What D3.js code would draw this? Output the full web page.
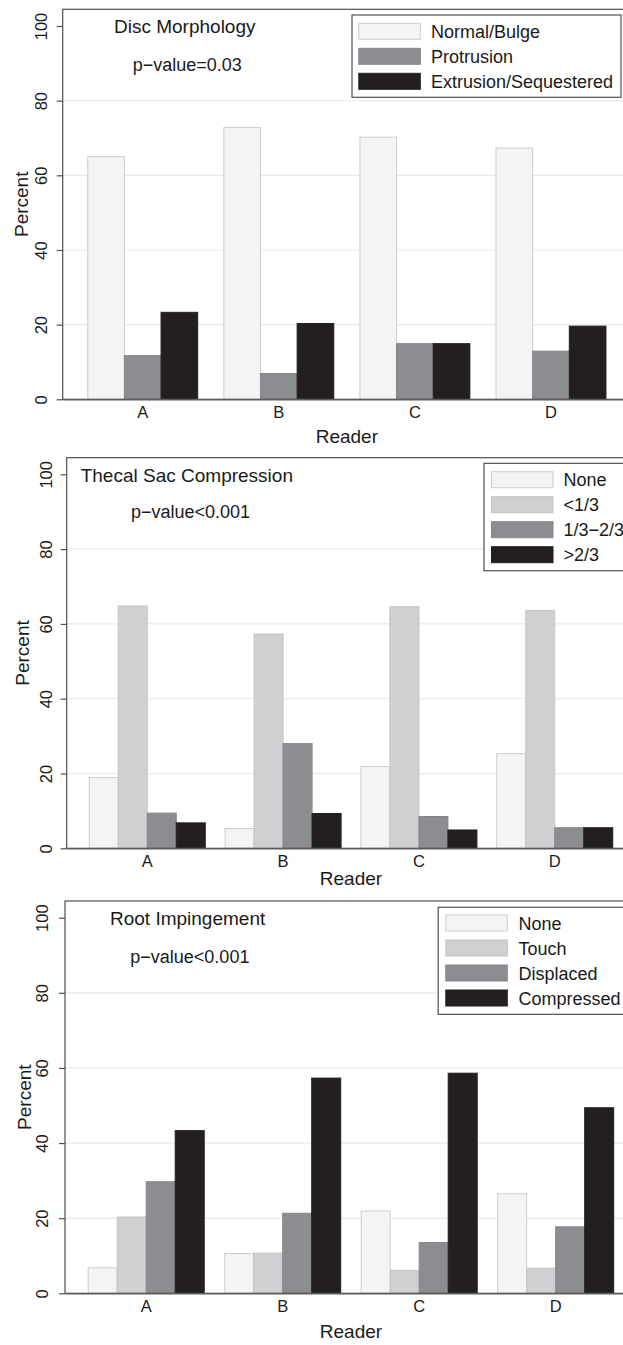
<!DOCTYPE html>
<html>
<head>
<meta charset="utf-8">
<script src="https://cdn.jsdelivr.net/npm/d3@7"></script>
<style>
  body { margin: 0; background: #fff; }
  text { font-family: "Liberation Sans", Arial, sans-serif; fill: #1a1a1a; }
</style>
</head>
<body>
<div id="chart"></div>
<script>
document.addEventListener('DOMContentLoaded', () => {

  const readers = ['A', 'B', 'C', 'D'];
  const yTicks = [0, 20, 40, 60, 80, 100];
  const gridTicks = [20, 40, 60, 80];

  // Disc morphology
  const discLabels = ['Normal/Bulge', 'Protrusion', 'Extrusion/Sequestered'];
  const discNormal = [65.0, 72.8, 70.2, 67.3];
  const discProtrusion = [11.7, 6.9, 14.9, 12.9];
  const discExtrusion = [23.3, 20.3, 14.9, 19.6];

  // Thecal sac compression
  const thecalLabels = ['None', '<1/3', '1/3\u22122/3', '>2/3'];
  const thecalNone = [18.9, 5.3, 21.9, 25.3];
  const thecalLow = [64.8, 57.3, 64.6, 63.6];
  const thecalMid = [9.4, 28.0, 8.5, 5.5];
  const thecalHigh = [6.8, 9.3, 4.9, 5.5];

  // Root impingement
  const rootLabels = ['None', 'Touch', 'Displaced', 'Compressed'];
  const rootNone = [6.8, 10.6, 21.9, 26.5];
  const rootTouch = [20.3, 10.7, 6.1, 6.7];
  const rootDisplaced = [29.7, 21.3, 13.5, 17.7];
  const rootCompressed = [43.3, 57.3, 58.6, 49.4];

  const white = { fill: '#f4f4f4', stroke: '#cdcdcd' };
  const light = { fill: '#cfd0d2', stroke: '#c3c4c6' };
  const grey = { fill: '#8c8d90', stroke: '#85868a' };
  const black = { fill: '#231f20', stroke: '#231f20' };

  const width = 623;
  const height = 1345;

  const svg = d3.select('#chart')
                .append('svg')
                .attr('width', width)
                .attr('height', height);

  const panels = [
    {
      title: 'Disc Morphology', pval: 'p\u2212value=0.03',
      labels: discLabels, series: [discNormal, discProtrusion, discExtrusion],
      colors: [white, grey, black],
      top: 9.3, y100: 26, y0: 399.3, left: 62.7, right: 631,
      pi: 0.192, po: 0.184,
      titleX: 114, titleY: 33, pvalX: 132.7, pvalY: 71,
      legX: 352, legY: 15, legR: 621, legB: 97.3,
      swX: 358.8, swY: 23.3, txtX: 431,
      tickY: 418, readerY: 443, ylabX: 47, percentX: 28
    },
    {
      title: 'Thecal Sac Compression', pval: 'p\u2212value<0.001',
      labels: thecalLabels, series: [thecalNone, thecalLow, thecalMid, thecalHigh],
      colors: [white, light, grey, black],
      top: 457.7, y100: 474.3, y0: 848.3, left: 66.7, right: 635.3,
      pi: 0.146, po: 0.166,
      titleX: 80.7, titleY: 481.7, pvalX: 131, pvalY: 518.3,
      legX: 484, legY: 463.3, legR: 640, legB: 570.7,
      swX: 491.5, swY: 471.7, txtX: 563.4,
      tickY: 867, readerY: 885, ylabX: 51.5, percentX: 28.5
    },
    {
      title: 'Root Impingement', pval: 'p\u2212value<0.001',
      labels: rootLabels, series: [rootNone, rootTouch, rootDisplaced, rootCompressed],
      colors: [white, light, grey, black],
      top: 901, y100: 917.7, y0: 1293.3, left: 65, right: 636.9,
      pi: 0.150, po: 0.170,
      titleX: 110, titleY: 925, pvalX: 130.3, pvalY: 962.7,
      legX: 438.2, legY: 907.3, legR: 640, legB: 1014.3,
      swX: 445.8, swY: 915, txtX: 518.5,
      tickY: 1312, readerY: 1338, ylabX: 48, percentX: 30.5
    }
  ];

  panels.forEach(p => {
    const g = svg.append('g');

    const xScale = d3.scaleBand()
                     .domain(readers)
                     .range([p.left, p.right])
                     .paddingInner(p.pi)
                     .paddingOuter(p.po);

    const inner = d3.scaleBand()
                    .domain(d3.range(p.labels.length))
                    .range([0, xScale.bandwidth()]);

    const yScale = d3.scaleLinear()
                     .domain([0, 100])
                     .range([p.y0, p.y100]);

    // grid lines
    g.selectAll('.grid')
     .data(gridTicks)
     .enter()
     .append('line')
     .attr('x1', p.left)
     .attr('x2', p.right)
     .attr('y1', d => yScale(d))
     .attr('y2', d => yScale(d))
     .attr('stroke', '#e9eaea')
     .attr('stroke-width', 1.2);

    // bars
    p.series.forEach((values, i) => {
      g.selectAll('.bar' + i)
       .data(values)
       .enter()
       .append('rect')
       .attr('x', (d, j) => xScale(readers[j]) + inner(i))
       .attr('y', d => yScale(d))
       .attr('width', inner.bandwidth())
       .attr('height', d => p.y0 - yScale(d))
       .attr('fill', p.colors[i].fill)
       .attr('stroke', p.colors[i].stroke)
       .attr('stroke-width', 1);
    });

    // plot frame
    g.append('rect')
     .attr('x', p.left)
     .attr('y', p.top)
     .attr('width', p.right - p.left)
     .attr('height', p.y0 - p.top)
     .attr('fill', 'none')
     .attr('stroke', '#4f4f4f')
     .attr('stroke-width', 1.2);

    // y axis
    const yAxis = d3.axisLeft(yScale)
                    .tickValues(yTicks)
                    .tickSize(6)
                    .tickSizeOuter(0);

    const ya = g.append('g')
                .attr('transform', 'translate(' + p.left + ', 0)')
                .call(yAxis);
    ya.select('.domain').remove();
    ya.selectAll('line').attr('stroke', '#4f4f4f').attr('stroke-width', 1.2);
    ya.selectAll('text')
      .attr('transform', 'rotate(-90)')
      .attr('x', 0)
      .attr('y', p.ylabX - p.left)
      .attr('dy', null)
      .attr('text-anchor', 'middle')
      .attr('font-size', 16.5)
      .attr('font-family', null)
      .attr('fill', '#1a1a1a');

    // x axis
    const xAxis = d3.axisBottom(xScale)
                    .tickSize(0)
                    .tickSizeOuter(0);

    const xa = g.append('g')
                .attr('transform', 'translate(0, ' + p.y0 + ')')
                .call(xAxis);
    xa.select('.domain').attr('stroke', '#5c5c5c').attr('stroke-width', 1.6);
    xa.selectAll('text')
      .attr('y', p.tickY - p.y0)
      .attr('dy', null)
      .attr('font-size', 16.5)
      .attr('font-family', null)
      .attr('fill', '#1a1a1a');

    // axis titles
    g.append('text')
     .attr('x', (p.left + p.right) / 2)
     .attr('y', p.readerY)
     .attr('text-anchor', 'middle')
     .attr('font-size', 19)
     .text('Reader');

    g.append('text')
     .attr('transform', 'translate(' + p.percentX + ', ' + (p.top + p.y0) / 2 + ') rotate(-90)')
     .attr('text-anchor', 'middle')
     .attr('font-size', 19)
     .text('Percent');

    // panel title and p-value
    g.append('text')
     .attr('x', p.titleX)
     .attr('y', p.titleY)
     .attr('font-size', 19)
     .text(p.title);

    g.append('text')
     .attr('x', p.pvalX)
     .attr('y', p.pvalY)
     .attr('font-size', 18)
     .text(p.pval);

    // legend
    g.append('rect')
     .attr('x', p.legX)
     .attr('y', p.legY)
     .attr('width', p.legR - p.legX)
     .attr('height', p.legB - p.legY)
     .attr('fill', '#fff')
     .attr('stroke', '#4f4f4f')
     .attr('stroke-width', 1.2);

    const items = g.selectAll('.leg')
                   .data(p.labels)
                   .enter()
                   .append('g')
                   .attr('transform', (d, i) => 'translate(0, ' + (p.swY + i * 25) + ')');

    items.append('rect')
         .attr('x', p.swX)
         .attr('y', 0)
         .attr('width', 61.5)
         .attr('height', 16)
         .attr('fill', (d, i) => p.colors[i].fill)
         .attr('stroke', (d, i) => p.colors[i].stroke)
         .attr('stroke-width', 1);

    items.append('text')
         .attr('x', p.txtX)
         .attr('y', 14.5)
         .attr('font-size', 18)
         .text(d => d);
  });

});
</script>
</body>
</html>
